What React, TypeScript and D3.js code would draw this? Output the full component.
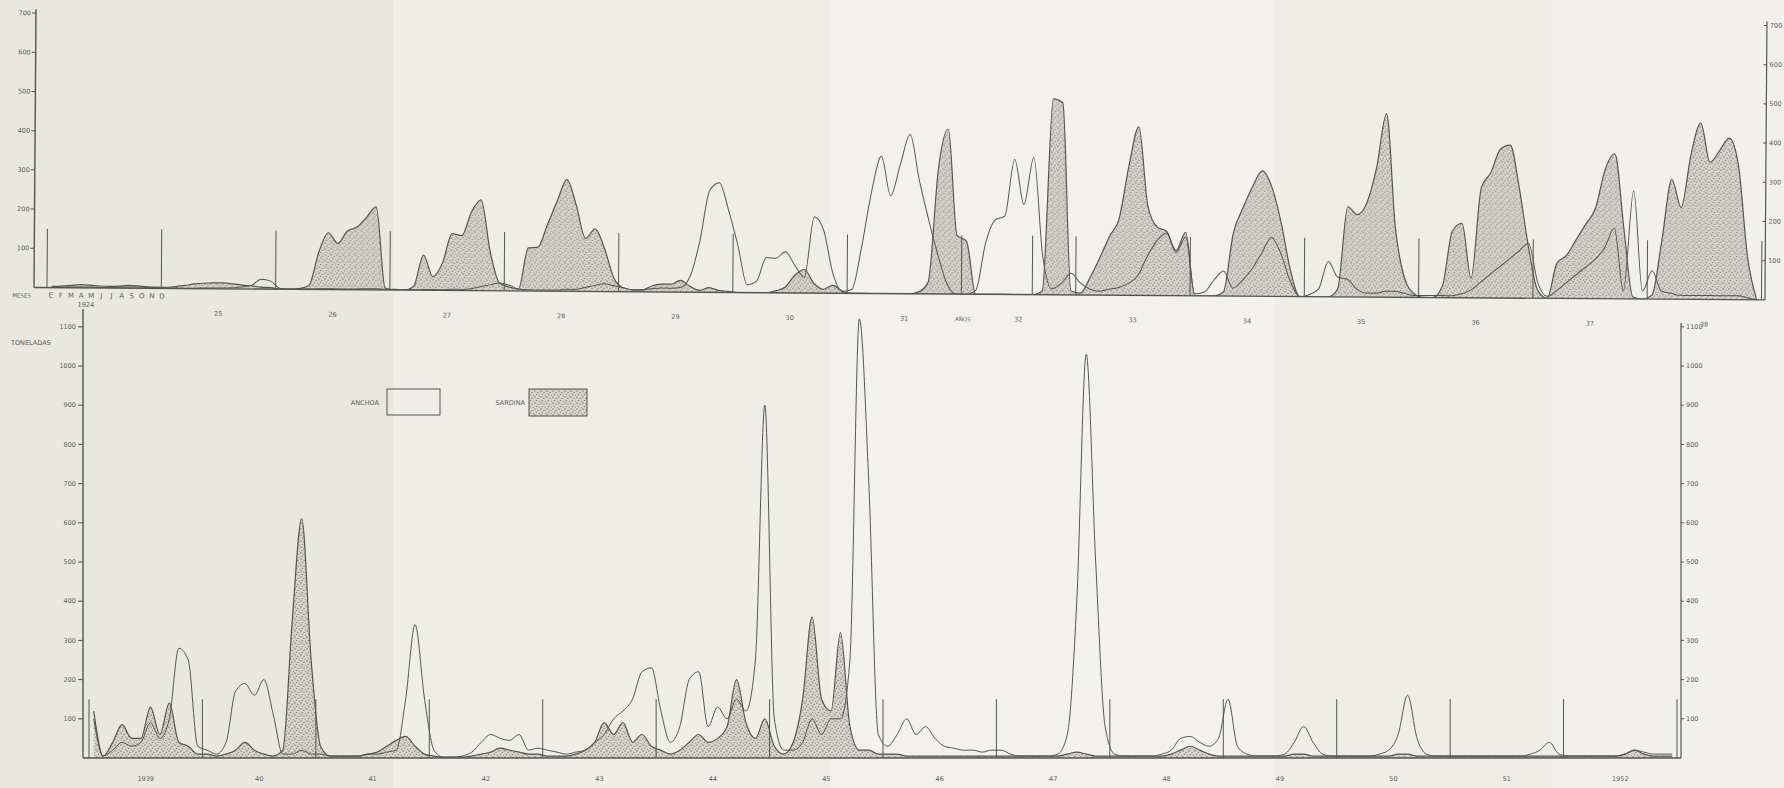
import React from 'react';
import * as d3 from 'd3';

const W = 1784;
const H = 788;

// ---------- DATA ----------
const topYears = d3.range(1924, 1939);
const bottomYears = d3.range(1939, 1953);
const monthLetters = ['E', 'F', 'M', 'A', 'M', 'J', 'J', 'A', 'S', 'O', 'N', 'D'];
const topTicks = [100, 200, 300, 400, 500, 600, 700];
const bottomTicks = [100, 200, 300, 400, 500, 600, 700, 800, 900, 1000, 1100];
const topYearLabels = ['1924', '25', '26', '27', '28', '29', '30', '31', '32', '33', '34', '35', '36', '37', '38'];
const bottomYearLabels = ['1939', '40', '41', '42', '43', '44', '45', '46', '47', '48', '49', '50', '51', '1952'];
const topExtraMarks = [1932.62];

// monthly catches (tons), 1924-1938
const sardineTop = [
  3, 4, 6, 8, 7, 5, 4, 5, 7, 6, 4, 3, // 1924
  3, 5, 8, 12, 14, 15, 15, 13, 10, 8, 5, 4, // 1925
  0, 0, 2, 10, 95, 145, 118, 150, 160, 185, 212, 5, // 1926
  0, 0, 10, 90, 35, 70, 145, 140, 200, 232, 100, 20, // 1927
  10, 5, 110, 112, 170, 230, 285, 220, 135, 160, 110, 35, // 1928
  10, 5, 5, 15, 20, 20, 30, 15, 5, 12, 5, 3, // 1929
  0, 0, 0, 0, 5, 15, 45, 60, 25, 10, 20, 5, // 1930
  0, 0, 0, 0, 0, 0, 0, 5, 30, 320, 421, 150, // 1931
  135, 0, 0, 0, 0, 0, 0, 0, 10, 500, 490, 10, // 1932
  5, 45, 95, 150, 195, 330, 430, 230, 175, 164, 115, 162, // 1933
  0, 0, 0, 10, 160, 225, 280, 320, 280, 190, 70, 0, // 1934
  0, 0, 0, 20, 230, 210, 240, 330, 468, 180, 50, 10, // 1935
  0, 0, 30, 170, 190, 50, 280, 320, 380, 390, 280, 130, // 1936
  20, 0, 90, 110, 150, 190, 230, 330, 370, 180, 5, 0, // 1937
  10, 150, 306, 234, 370, 450, 350, 380, 412, 340, 110, 0, // 1938
];

const anchovyTop = [
  0, 1, 2, 2, 2, 1, 1, 2, 3, 3, 2, 1, // 1924
  1, 1, 1, 1, 2, 2, 2, 3, 5, 10, 25, 20, // 1925
  2, 1, 1, 1, 2, 2, 2, 2, 2, 3, 3, 2, // 1926
  2, 1, 1, 2, 2, 2, 3, 3, 5, 10, 15, 20, // 1927
  15, 5, 3, 3, 3, 3, 5, 5, 10, 15, 20, 15, // 1928
  10, 5, 5, 8, 10, 10, 12, 40, 130, 260, 280, 210, // 1929
  120, 20, 30, 90, 88, 105, 70, 40, 195, 160, 50, 5, // 1930
  10, 120, 260, 350, 250, 330, 406, 290, 190, 100, 25, 0, // 1931
  0, 10, 130, 190, 200, 345, 230, 350, 100, 15, 30, 55, // 1932
  30, 15, 10, 15, 20, 30, 50, 100, 140, 160, 110, 150, // 1933
  5, 10, 40, 64, 20, 40, 70, 110, 150, 110, 40, 0, // 1934
  5, 20, 90, 50, 45, 20, 10, 10, 15, 15, 10, 5, // 1935
  5, 5, 5, 5, 10, 20, 40, 60, 80, 100, 120, 140, // 1936
  40, 5, 20, 40, 60, 80, 100, 130, 180, 20, 276, 20, // 1937
  72, 20, 15, 10, 10, 10, 10, 10, 10, 10, 5, 0, // 1938
];

// monthly catches (tons), 1939-1952
const sardineBottom = [
  120, 5, 40, 85, 50, 50, 130, 60, 140, 40, 30, 10, // 1939
  10, 5, 10, 20, 40, 20, 10, 5, 20, 350, 610, 250, // 1940
  30, 5, 5, 5, 5, 10, 15, 30, 45, 55, 30, 10, // 1941
  5, 2, 2, 2, 5, 10, 15, 25, 20, 15, 10, 10, // 1942
  5, 5, 5, 10, 20, 40, 90, 60, 90, 40, 60, 30, // 1943
  20, 10, 20, 40, 60, 40, 50, 80, 200, 90, 50, 100, // 1944
  30, 10, 40, 150, 360, 150, 120, 320, 80, 20, 20, 10, // 1945
  10, 10, 5, 5, 5, 5, 5, 5, 5, 5, 5, 5, // 1946
  5, 5, 5, 5, 5, 5, 5, 10, 15, 10, 5, 5, // 1947
  5, 5, 5, 5, 5, 5, 10, 20, 30, 20, 10, 5, // 1948
  5, 5, 5, 5, 5, 5, 5, 10, 10, 5, 5, 5, // 1949
  5, 5, 5, 5, 5, 5, 10, 10, 5, 5, 5, 5, // 1950
  5, 5, 5, 5, 5, 5, 5, 5, 5, 5, 5, 5, // 1951
  5, 5, 5, 5, 5, 5, 10, 20, 10, 5, 5, 5, // 1952
];

const anchovyBottom = [
  100, 5, 20, 40, 30, 40, 90, 50, 100, 280, 250, 30, // 1939
  20, 10, 40, 170, 190, 160, 200, 110, 10, 10, 20, 10, // 1940
  10, 5, 5, 5, 5, 10, 10, 15, 20, 150, 340, 150, // 1941
  20, 2, 2, 5, 15, 40, 60, 50, 45, 60, 20, 25, // 1942
  20, 15, 10, 15, 20, 40, 60, 100, 120, 150, 220, 230, // 1943
  120, 40, 80, 200, 220, 80, 130, 100, 150, 120, 250, 900, // 1944
  100, 20, 20, 40, 100, 60, 100, 100, 250, 1120, 700, 60, // 1945
  30, 60, 100, 60, 80, 50, 30, 25, 20, 20, 15, 20, // 1946
  20, 10, 5, 5, 5, 5, 10, 60, 400, 1030, 500, 80, // 1947
  10, 5, 5, 5, 5, 10, 20, 50, 55, 40, 30, 50, // 1948
  150, 30, 10, 5, 5, 5, 10, 40, 80, 40, 10, 5, // 1949
  5, 5, 5, 5, 10, 20, 60, 160, 50, 10, 5, 5, // 1950
  5, 5, 5, 5, 5, 5, 5, 5, 10, 20, 40, 10, // 1951
  5, 5, 5, 5, 5, 5, 10, 20, 15, 10, 10, 10, // 1952
];

// ---------- LAYOUT ----------
const TEXT = '#5e5e5b';
const LINE = '#555552';
const FONT = 'DejaVu Sans, sans-serif';

type Pt = { t: number; v: number };
const toPts = (vals: number[], y0: number): Pt[] =>
  vals.map((v, i) => ({ t: y0 + Math.floor(i / 12) + ((i % 12) + 0.5) / 12, v }));

function Panel(props: {
  years: number[];
  sardine: number[];
  anchovy: number[];
  x: d3.ScaleLinear<number, number>;
  y: d3.ScaleLinear<number, number>;
  clipId: string;
}) {
  const { years, sardine, anchovy, x, y, clipId } = props;
  const sp = toPts(sardine, years[0]);
  const ap = toPts(anchovy, years[0]);
  const area = d3
    .area<Pt>()
    .x((d) => x(d.t))
    .y0(y(0))
    .y1((d) => y(d.v))
    .curve(d3.curveMonotoneX);
  const line = d3
    .line<Pt>()
    .x((d) => x(d.t))
    .y((d) => y(d.v))
    .curve(d3.curveMonotoneX);
  return (
    <g clipPath={`url(#${clipId})`}>
      <path d={area(sp) || ''} fill="url(#dots)" />
      <path d={line(sp) || ''} fill="none" stroke={LINE} strokeWidth={1.2} />
      <path d={line(ap) || ''} fill="none" stroke={LINE} strokeWidth={1} />
    </g>
  );
}

export default function App() {
  // top panel scales (1924-1938)
  const xT = d3.scaleLinear().domain([1924, 1939]).range([47, 1761.5]);
  const yT = d3.scaleLinear().domain([0, 700]).range([287.5, 287.5 - 274.4]);
  const axL = 34;
  const axR = 1765;

  // bottom panel scales (1939-1952)
  const xB = d3.scaleLinear().domain([1939, 1953]).range([89, 1677]);
  const yB = d3.scaleLinear().domain([0, 1100]).range([758, 758 - 431.2]);
  const bxL = 83;
  const bxR = 1681;

  const strips = [
    { x0: 0, x1: 393, c: '#e8e7e0' },
    { x0: 393, x1: 831, c: '#eeede8' },
    { x0: 831, x1: 1274, c: '#f2f1ed' },
    { x0: 1274, x1: 1553, c: '#eeede8' },
    { x0: 1553, x1: W, c: '#f1f0ec' },
  ];

  return (
    <svg
      width={W}
      height={H}
      viewBox={`0 0 ${W} ${H}`}
      style={{ position: 'absolute', left: 0, top: 0, display: 'block', background: '#eeede8' }}
      fontFamily={FONT}
    >
      <defs>
        <pattern id="dots" width="6" height="6" patternUnits="userSpaceOnUse">
          <rect width="6" height="6" fill="#d3d1c9" />
          <circle cx="1" cy="1" r="0.65" fill="#6c6c68" />
          <circle cx="4" cy="2.4" r="0.6" fill="#77776f" />
          <circle cx="2.4" cy="4.5" r="0.6" fill="#6e6e6a" />
          <circle cx="5.3" cy="5.3" r="0.5" fill="#84847e" />
        </pattern>
        <clipPath id="clipTop">
          <rect x={axL} y={0} width={axR - axL} height={yT(0)} />
        </clipPath>
        <clipPath id="clipBot">
          <rect x={bxL} y={300} width={bxR - bxL} height={yB(0) - 300} />
        </clipPath>
      </defs>

      {strips.map((s, i) => (
        <rect key={i} x={s.x0} y={0} width={s.x1 - s.x0} height={H} fill={s.c} />
      ))}

      {/* ---------------- TOP PANEL ---------------- */}
      <g transform={`rotate(0.41 ${axL} ${yT(0)})`}>
        <Panel years={topYears} sardine={sardineTop} anchovy={anchovyTop} x={xT} y={yT} clipId="clipTop" />

        {/* year separators */}
        {[...d3.range(1924, 1940), ...topExtraMarks].map((yr, i) => (
          <line key={'ts' + i} x1={xT(yr)} x2={xT(yr)} y1={yT(0)} y2={yT(150)} stroke={LINE} strokeWidth={1} />
        ))}

        {/* axes */}
        <line x1={axL} x2={axL} y1={yT(0)} y2={yT(710)} stroke={LINE} strokeWidth={1.4} />
        <line x1={axR} x2={axR} y1={yT(0)} y2={yT(710)} stroke={LINE} strokeWidth={1.2} />
        <line x1={axL} x2={axR} y1={yT(0)} y2={yT(0)} stroke={LINE} strokeWidth={1.4} />
        {topTicks.map((t) => (
          <g key={'tl' + t}>
            <line x1={axL - 4} x2={axL} y1={yT(t)} y2={yT(t)} stroke={LINE} strokeWidth={1} />
            <text x={axL - 5} y={yT(t)} dy="0.33em" textAnchor="end" fontSize={6.5} fill={TEXT}>
              {t}
            </text>
            <line x1={axR - 3} x2={axR} y1={yT(t)} y2={yT(t)} stroke={LINE} strokeWidth={1} />
            <text x={axR + 3} y={yT(t)} dy="0.33em" textAnchor="start" fontSize={6.5} fill={TEXT}>
              {t}
            </text>
          </g>
        ))}

        {/* months & years */}
        <text x={31} y={yT(0) + 10} textAnchor="end" fontSize={5.5} fill={TEXT}>
          MESES
        </text>
        {monthLetters.map((m, i) => (
          <text key={'m' + i} x={xT(1924 + (i + 0.5) / 12) - 1 + i * 0.6} y={yT(0) + 10} textAnchor="middle" fontSize={7} fill={TEXT}>
            {m}
          </text>
        ))}
        {topYearLabels.map((lab, i) => (
          <text
            key={'ty' + i}
            x={i === 0 ? 86 : xT(topYears[i] + 0.5)}
            y={yT(0) + (i === 0 ? 19 : 27)}
            textAnchor="middle"
            fontSize={6.5}
            fill={TEXT}
          >
            {lab}
          </text>
        ))}
        <text x={963} y={yT(0) + 27} textAnchor="middle" fontSize={5.5} fill={TEXT}>
          AÑOS
        </text>
      </g>

      {/* ---------------- BOTTOM PANEL ---------------- */}
      <Panel years={bottomYears} sardine={sardineBottom} anchovy={anchovyBottom} x={xB} y={yB} clipId="clipBot" />

      {d3.range(1939, 1954).map((yr) => (
        <line key={'bs' + yr} x1={xB(yr)} x2={xB(yr)} y1={yB(0)} y2={yB(150)} stroke={LINE} strokeWidth={1} />
      ))}

      <line x1={bxL} x2={bxL} y1={yB(0)} y2={309} stroke={LINE} strokeWidth={1.4} />
      <line x1={bxR} x2={bxR} y1={yB(0)} y2={yB(1110)} stroke={LINE} strokeWidth={1.2} />
      <line x1={bxL} x2={bxR} y1={yB(0)} y2={yB(0)} stroke={LINE} strokeWidth={1.4} />
      {bottomTicks.map((t) => (
        <g key={'bl' + t}>
          <line x1={bxL - 5} x2={bxL} y1={yB(t)} y2={yB(t)} stroke={LINE} strokeWidth={1} />
          <text x={bxL - 7} y={yB(t)} dy="0.33em" textAnchor="end" fontSize={6.5} fill={TEXT}>
            {t}
          </text>
          <line x1={bxR} x2={bxR + 3} y1={yB(t)} y2={yB(t)} stroke={LINE} strokeWidth={1} />
          <text x={bxR + 5} y={yB(t)} dy="0.33em" textAnchor="start" fontSize={6.5} fill={TEXT}>
            {t}
          </text>
        </g>
      ))}
      <text x={11} y={345} fontSize={6.5} fill={TEXT}>
        TONELADAS
      </text>
      {bottomYearLabels.map((lab, i) => (
        <text key={'by' + i} x={xB(bottomYears[i] + 0.5)} y={781} textAnchor="middle" fontSize={6.5} fill={TEXT}>
          {lab}
        </text>
      ))}

      {/* legend */}
      <text x={379} y={405} textAnchor="end" fontSize={6.5} fill={TEXT}>
        ANCHOA
      </text>
      <rect x={387} y={389} width={53} height={26} fill="none" stroke={LINE} strokeWidth={1} />
      <text x={525} y={405} textAnchor="end" fontSize={6.5} fill={TEXT}>
        SARDINA
      </text>
      <rect x={529} y={389} width={58} height={27} fill="url(#dots)" stroke={LINE} strokeWidth={1} />
    </svg>
  );
}
